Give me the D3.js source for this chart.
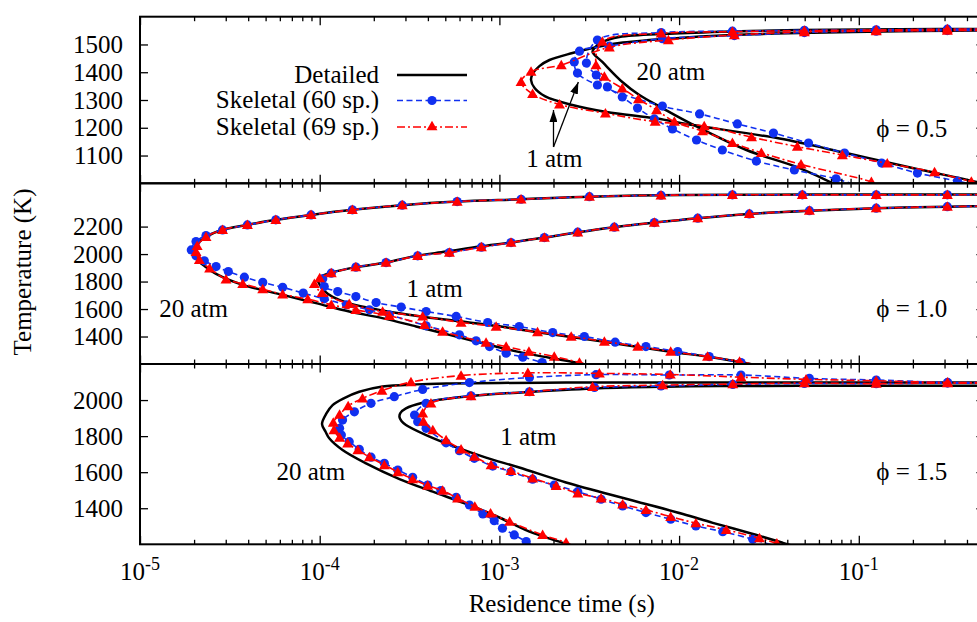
<!DOCTYPE html>
<html><head><meta charset="utf-8">
<script src="https://cdn.jsdelivr.net/npm/d3@7/dist/d3.min.js"></script>
<style>
body{margin:0;background:#fff;}
svg text{font-family:"Liberation Serif","Times New Roman",serif;}
</style></head><body>
<svg id="chart" width="977" height="622"></svg>
<script>
// ---------------- DATA (residence time [s], temperature [K]) ----------------
const xTickValues = [1e-5, 1e-4, 1e-3, 1e-2, 1e-1];
const xTickExponents = ["-5", "-4", "-3", "-2", "-1"];
const yTicksPhi05 = [1100, 1200, 1300, 1400, 1500];
const yTicksPhi10 = [1400, 1600, 1800, 2000, 2200];
const yTicksPhi15 = [1400, 1600, 1800, 2000];
const seriesNames = ["Detailed", "Skeletal (60 sp.)", "Skeletal (69 sp.)"];
const phiLabels = ["\u03d5 = 0.5", "\u03d5 = 1.0", "\u03d5 = 1.5"];

// phi = 0.5
const det05_1atm = [[0.6,1551],[0.452,1550],[0.168,1548],[0.0467,1541],[0.0198,1534],[8.83e-3,1521],[4.65e-3,1505],[3.30e-3,1487],[2.55e-3,1469],[1.90e-3,1444],[1.67e-3,1422],[1.53e-3,1394],[1.50e-3,1372],[1.57e-3,1343],[1.80e-3,1313],[2.55e-3,1282],[3.94e-3,1257],[7.49e-3,1233],[1.19e-2,1210],[3.62e-2,1161],[8.51e-2,1109],[0.199,1055],[0.452,1005],[0.6,985]];
const det05_20atm = [[0.6,1556],[0.168,1555],[0.0467,1552],[0.0198,1547],[8.83e-3,1539],[4.65e-3,1527],[3.74e-3,1509],[3.38e-3,1487],[3.30e-3,1473],[3.74e-3,1437],[4.83e-3,1365],[6.01e-3,1318],[8.07e-3,1271],[1.15e-2,1217],[2.37e-2,1120],[4.50e-2,1059],[7.14e-2,1001],[0.09,970]];
const sk60_05_1atm = [[0.6,1550],[0.311,1550],[0.125,1548],[0.0498,1543],[0.0203,1532],[8.07e-3,1521],[4.09e-3,1494],[2.79e-3,1476],[2.61e-3,1437],[2.72e-3,1397],[3.51e-3,1354],[8.07e-3,1278],[0.0130,1250],[0.0211,1214],[0.0335,1181],[0.0525,1145],[0.0833,1109],[0.134,1073],[0.212,1037],[0.354,1008],[0.5,985]];
const sk60_05_20atm = [[0.6,1556],[0.311,1555],[0.125,1553],[0.0498,1551],[0.0198,1548],[7.95e-3,1543],[3.51e-3,1516],[3.05e-3,1433],[3.46e-3,1390],[3.99e-3,1347],[4.83e-3,1311],[5.87e-3,1271],[7.28e-3,1232],[9.18e-3,1196],[0.0125,1156],[0.0174,1120],[0.0269,1080],[0.0438,1048],[0.0747,1016],[0.1,990]];
const sk69_05_1atm = [[0.6,1550],[0.311,1550],[0.125,1548],[0.0498,1545],[0.0203,1534],[8.72e-3,1516],[4.09e-3,1490],[2.21e-3,1426],[1.50e-3,1402],[1.32e-3,1365],[1.53e-3,1322],[2.16e-3,1284],[3.89e-3,1252],[7.36e-3,1222],[1.38e-2,1206],[2.53e-2,1166],[4.55e-2,1132],[8.1e-2,1102],[0.144,1072],[0.264,1040],[0.423,1006],[0.6,985]];
const sk69_05_20atm = [[0.6,1556],[0.311,1555],[0.125,1552],[0.0498,1550],[0.0198,1546],[7.95e-3,1540],[3.74e-3,1510],[3.45e-3,1426],[3.84e-3,1384],[4.83e-3,1342],[5.94e-3,1303],[7.49e-3,1264],[9.41e-3,1222],[1.35e-2,1188],[1.98e-2,1146],[2.87e-2,1110],[0.0477,1068],[0.1175,1005],[0.13,990]];

// phi = 1.0
const det10_1atm = [[0.6,2349],[0.452,2348],[0.311,2345],[0.125,2334],[0.0531,2316],[0.0246,2292],[0.0127,2261],[7.28e-3,2229],[4.36e-3,2196],[2.73e-3,2159],[1.78e-3,2120],[1.16e-3,2084],[7.75e-4,2055],[5.05e-4,2018],[3.44e-4,1987],[2.34e-4,1938],[1.59e-4,1905],[1.16e-4,1865],[1.02e-4,1838],[9.75e-5,1812],[1.01e-4,1769],[1.06e-4,1732],[1.18e-4,1689],[1.46e-4,1641],[2.23e-4,1590],[3.59e-4,1547],[5.99e-4,1511],[1.0e-3,1474],[1.63e-3,1431],[2.45e-3,1398],[3.84e-3,1361],[8.98e-3,1289],[1.47e-2,1252],[2.37e-2,1205],[0.03,1180]];
const det10_20atm = [[0.6,2433],[0.452,2433],[0.125,2433],[0.0485,2433],[0.0198,2431],[7.93e-3,2428],[3.17e-3,2418],[1.32e-3,2399],[5.82e-4,2382],[2.88e-4,2356],[1.52e-4,2322],[8.95e-5,2285],[5.70e-5,2249],[3.96e-5,2212],[2.87e-5,2176],[2.33e-5,2125],[2.06e-5,2067],[1.97e-5,2016],[2.06e-5,1965],[2.28e-5,1914],[2.65e-5,1856],[3.73e-5,1776],[6.22e-5,1703],[9.54e-5,1643],[1.46e-4,1582],[2.23e-4,1534],[3.44e-4,1473],[5.27e-4,1412],[8.08e-4,1351],[1.24e-3,1292],[1.90e-3,1245],[2.79e-3,1205],[3.2e-3,1185]];
const sk60_10_1atm = [[0.6,2349],[0.311,2345],[0.125,2334],[0.0531,2316],[0.0246,2292],[0.0127,2261],[7.28e-3,2229],[4.36e-3,2196],[2.73e-3,2159],[1.78e-3,2120],[1.16e-3,2084],[7.94e-4,2050],[5.27e-4,2011],[3.51e-4,1987],[2.34e-4,1938],[1.59e-4,1905],[1.16e-4,1861],[1.04e-4,1820],[1.06e-4,1764],[1.26e-4,1727],[1.59e-4,1691],[2.06e-4,1647],[2.84e-4,1614],[3.91e-4,1582],[5.75e-4,1546],[8.61e-4,1502],[1.29e-3,1473],[1.98e-3,1429],[2.97e-3,1400],[4.41e-3,1359],[6.54e-3,1327],[9.82e-3,1291],[1.47e-2,1254],[2.21e-2,1211],[0.03,1180]];
const sk60_10_20atm = [[0.6,2433],[0.311,2431],[0.125,2431],[0.0485,2431],[0.0198,2431],[7.93e-3,2428],[3.17e-3,2418],[1.32e-3,2399],[5.82e-4,2382],[2.88e-4,2356],[1.52e-4,2322],[8.95e-5,2285],[5.70e-5,2249],[3.96e-5,2212],[2.88e-5,2176],[2.33e-5,2135],[2.05e-5,2091],[1.93e-5,2030],[2.05e-5,1987],[2.28e-5,1951],[2.65e-5,1909],[3.10e-5,1873],[3.81e-5,1832],[4.82e-5,1794],[6.22e-5,1758],[8.10e-5,1716],[1.06e-4,1674],[1.41e-4,1631],[1.89e-4,1594],[2.44e-4,1558],[3.91e-4,1478],[5.99e-4,1412],[7.42e-4,1369],[8.81e-4,1327],[1.09e-3,1279],[1.35e-3,1250],[1.73e-3,1211],[2.0e-3,1190]];
const sk69_10_1atm = [[0.6,2349],[0.311,2345],[0.125,2334],[0.0531,2316],[0.0246,2292],[0.0127,2261],[7.28e-3,2229],[4.36e-3,2196],[2.73e-3,2159],[1.78e-3,2120],[1.16e-3,2084],[7.94e-4,2050],[5.27e-4,2011],[3.51e-4,1987],[2.34e-4,1938],[1.59e-4,1905],[1.16e-4,1861],[1.0e-4,1825],[9.34e-5,1783],[1.03e-4,1718],[1.46e-4,1638],[2.24e-4,1582],[3.74e-4,1546],[6.12e-4,1502],[9.59e-4,1473],[1.63e-3,1432],[2.51e-3,1400],[3.84e-3,1364],[5.89e-3,1327],[8.98e-3,1291],[1.44e-2,1254],[2.17e-2,1218],[0.03,1180]];
const sk69_10_20atm = [[0.6,2433],[0.311,2431],[0.125,2431],[0.0485,2431],[0.0198,2431],[7.93e-3,2428],[3.17e-3,2418],[1.32e-3,2399],[5.82e-4,2382],[2.88e-4,2356],[1.52e-4,2322],[8.95e-5,2285],[5.70e-5,2249],[3.96e-5,2212],[2.88e-5,2176],[2.33e-5,2125],[2.08e-5,2060],[2.05e-5,2016],[2.14e-5,1958],[2.44e-5,1897],[3.01e-5,1817],[3.73e-5,1783],[4.82e-5,1745],[6.22e-5,1707],[8.58e-5,1672],[1.16e-4,1631],[1.59e-4,1594],[2.44e-4,1551],[3.83e-4,1485],[4.83e-4,1436],[8.43e-4,1356],[1.09e-3,1327],[1.46e-3,1291],[2.02e-3,1254],[2.79e-3,1211],[3.2e-3,1185]];

// phi = 1.5
const det15_1atm = [[0.6,2079],[0.452,2079],[0.168,2079],[0.0467,2079],[1.68e-2,2078],[8.46e-3,2074],[3.60e-3,2065],[1.53e-3,2046],[8.09e-4,2028],[5.27e-4,2009],[3.74e-4,1985],[3.02e-4,1954],[2.81e-4,1928],[2.78e-4,1906],[2.85e-4,1884],[3.02e-4,1862],[3.91e-4,1806],[5.99e-4,1732],[8.43e-4,1681],[1.29e-3,1626],[2.35e-3,1543],[5.52e-3,1443],[1.05e-2,1368],[1.54e-2,1319],[2.46e-2,1263],[3.78e-2,1208],[0.045,1185]];
const det15_20atm = [[0.6,2098],[0.452,2098],[0.168,2098],[0.0467,2098],[1.68e-2,2098],[5.52e-3,2098],[2.35e-3,2097],[1.0e-3,2095],[5.27e-4,2092],[3.44e-4,2087],[2.24e-4,2075],[1.66e-4,2046],[1.37e-4,2011],[1.18e-4,1972],[1.09e-4,1926],[1.03e-4,1867],[1.08e-4,1823],[1.13e-4,1788],[1.34e-4,1723],[1.81e-4,1649],[2.78e-4,1562],[4.26e-4,1492],[6.52e-4,1424],[9.59e-4,1357],[1.47e-3,1270],[2.25e-3,1208],[2.6e-3,1185]];
const sk60_15_1atm = [[0.6,2092],[0.312,2094],[0.125,2091],[0.0498,2092],[1.99e-2,2087],[7.93e-3,2078],[3.38e-3,2070],[1.47e-3,2046],[6.95e-4,2024],[3.91e-4,1982],[3.37e-4,1917],[3.51e-4,1880],[3.91e-4,1843],[5.05e-4,1763],[5.99e-4,1719],[7.25e-4,1677],[9.18e-4,1634],[1.16e-3,1603],[1.53e-3,1561],[2.02e-3,1529],[2.73e-3,1492],[3.68e-3,1450],[4.85e-3,1413],[6.54e-3,1376],[8.98e-3,1339],[1.24e-2,1302],[1.75e-2,1270],[2.57e-2,1228],[3.3e-2,1195]];
const sk60_15_20atm = [[0.6,2098],[0.312,2098],[0.125,2111],[0.0531,2120],[2.21e-2,2139],[8.83e-3,2139],[3.45e-3,2141],[1.47e-3,2125],[6.81e-4,2097],[3.74e-4,2059],[2.60e-4,2019],[1.93e-4,1982],[1.56e-4,1935],[1.34e-4,1889],[1.29e-4,1843],[1.32e-4,1806],[1.46e-4,1769],[1.66e-4,1727],[1.93e-4,1683],[2.29e-4,1649],[2.72e-4,1612],[3.29e-4,1572],[3.99e-4,1529],[4.73e-4,1498],[5.75e-4,1461],[6.81e-4,1418],[8.09e-4,1368],[9.36e-4,1331],[1.04e-3,1289],[1.21e-3,1252],[1.41e-3,1215],[1.6e-3,1185]];
const sk69_15_1atm = [[0.6,2092],[0.312,2094],[0.125,2091],[0.0498,2094],[1.99e-2,2089],[8.10e-3,2083],[3.30e-3,2074],[1.47e-3,2046],[6.95e-4,2022],[4.16e-4,1982],[3.74e-4,1926],[3.78e-4,1880],[4.26e-4,1834],[5.05e-4,1778],[6.12e-4,1727],[7.25e-4,1686],[8.99e-4,1640],[1.16e-3,1607],[1.53e-3,1566],[2.07e-3,1524],[2.73e-3,1483],[3.68e-3,1455],[4.85e-3,1422],[6.54e-3,1391],[8.98e-3,1353],[1.24e-2,1317],[1.83e-2,1280],[2.80e-2,1234],[3.5e-2,1205],[0.04,1190]];
const sk69_15_20atm = [[0.6,2098],[0.312,2098],[0.125,2107],[0.0509,2115],[2.21e-2,2127],[8.93e-3,2142],[3.60e-3,2148],[1.44e-3,2151],[6.12e-4,2136],[3.22e-4,2100],[2.22e-4,2053],[1.73e-4,2009],[1.44e-4,1967],[1.29e-4,1919],[1.19e-4,1875],[1.20e-4,1834],[1.29e-4,1792],[1.43e-4,1760],[1.63e-4,1723],[1.89e-4,1684],[2.29e-4,1640],[2.72e-4,1601],[3.29e-4,1562],[3.99e-4,1526],[4.83e-4,1498],[5.85e-4,1455],[7.30e-4,1409],[8.93e-4,1372],[1.14e-3,1326],[1.74e-3,1252],[2.35e-3,1210],[2.6e-3,1190]];

// annotations [t, T]
const pressureLabels05 = [["20 atm", 5.8e-3, 1372], ["1 atm", 1.41e-3, 1059]];
const pressureLabels10 = [["20 atm", 1.28e-5, 1543], ["1 atm", 3.04e-4, 1689]];
const pressureLabels15 = [["20 atm", 5.75e-5, 1557], ["1 atm", 1.01e-3, 1751]];
const arrowStart05 = [2.0e-3, 1131];
const arrowTips05 = [[2.0e-3, 1264], [2.75e-3, 1365]];

// ---------------- CHART ----------------
const svg = d3.select("#chart");
const FONT = "Liberation Serif, Times New Roman, serif";
const XL = 140, XR = 984.4;
const x = d3.scaleLog().domain([1e-5, 0.5]).range([XL, XR]);
const BLUE = "#1030f0", RED = "#ff0000";

const panels = [
  {top: 16.7, bottom: 183.3, domain: [1000, 1600], yTicks: yTicksPhi05, phi: phiLabels[0], phiT: 1167,
   det: [det05_1atm, det05_20atm], s60: [sk60_05_1atm, sk60_05_20atm], s69: [sk69_05_1atm, sk69_05_20atm], labels: pressureLabels05},
  {top: 183.3, bottom: 364, domain: [1200, 2515], yTicks: yTicksPhi10, phi: phiLabels[1], phiT: 1543,
   det: [det10_1atm, det10_20atm], s60: [sk60_10_1atm, sk60_10_20atm], s69: [sk69_10_1atm, sk69_10_20atm], labels: pressureLabels10},
  {top: 364, bottom: 544.3, domain: [1200, 2200], yTicks: yTicksPhi15, phi: phiLabels[2], phiT: 1557,
   det: [det15_1atm, det15_20atm], s60: [sk60_15_1atm, sk60_15_20atm], s69: [sk69_15_1atm, sk69_15_20atm], labels: pressureLabels15}
];

const defs = svg.append("defs");
defs.append("marker").attr("id", "arrowhead").attr("viewBox", "0 0 12 8")
  .attr("refX", 12).attr("refY", 4).attr("markerWidth", 12).attr("markerHeight", 8)
  .attr("markerUnits", "userSpaceOnUse").attr("orient", "auto")
  .append("path").attr("d", "M0,0 L12,4 L0,8 Z").attr("fill", "#000");

const allTicks = x.ticks();
const minorTicks = allTicks.filter(v => !xTickValues.some(d => Math.abs(v / d - 1) < 1e-6));
const tri = d3.symbol().type(d3.symbolTriangle).size(52);

panels.forEach((p, i) => {
  const y = d3.scaleLinear().domain(p.domain).range([p.bottom, p.top]);
  const g = svg.append("g");
  const cid = "clip" + i;
  defs.append("clipPath").attr("id", cid).append("rect")
    .attr("x", XL).attr("y", p.top).attr("width", XR - XL).attr("height", p.bottom - p.top);

  const line = d3.line().x(d => x(d[0])).y(d => y(d[1])).curve(d3.curveCatmullRom.alpha(0.5));
  const plot = g.append("g").attr("clip-path", `url(#${cid})`);
  const inRange = d => d[0] >= 1e-5 && d[0] <= 0.5 && d[1] >= p.domain[0] && d[1] <= p.domain[1];

  p.det.forEach(s => plot.append("path").attr("d", line(s)).attr("fill", "none")
    .attr("stroke", "#000").attr("stroke-width", 2.5));
  p.s60.forEach(s => {
    plot.append("path").attr("d", line(s)).attr("fill", "none").attr("stroke", BLUE)
      .attr("stroke-width", 1.6).attr("stroke-dasharray", "6,3.5");
    plot.selectAll(null).data(s.filter(inRange)).enter().append("circle")
      .attr("cx", d => x(d[0])).attr("cy", d => y(d[1])).attr("r", 4.6).attr("fill", BLUE);
  });
  p.s69.forEach(s => {
    plot.append("path").attr("d", line(s)).attr("fill", "none").attr("stroke", RED)
      .attr("stroke-width", 1.6).attr("stroke-dasharray", "8,3,2,3");
    plot.selectAll(null).data(s.filter(inRange)).enter().append("path")
      .attr("d", tri).attr("transform", d => `translate(${x(d[0])},${y(d[1]) + 1})`).attr("fill", RED);
  });

  // axes
  const styleAxis = a => {
    a.select(".domain").remove();
    a.selectAll("line").attr("stroke", "#000").attr("stroke-width", 1.3);
    a.selectAll("text").attr("font-family", FONT).attr("font-size", 25).attr("fill", "#000");
  };
  g.append("g").attr("transform", `translate(${XL},0)`)
    .call(d3.axisLeft(y).tickValues(p.yTicks).tickSize(-8).tickPadding(17).tickFormat(d3.format("d"))).call(styleAxis);
  g.append("g").attr("transform", `translate(${XR},0)`)
    .call(d3.axisRight(y).tickValues(p.yTicks).tickSize(-8).tickFormat("")).call(styleAxis);
  [[d3.axisBottom, p.bottom], [d3.axisTop, p.top]].forEach(([ax, yy]) => {
    g.append("g").attr("transform", `translate(0,${yy})`)
      .call(ax(x).tickValues(xTickValues).tickSize(-8.5).tickFormat("")).call(styleAxis);
    g.append("g").attr("transform", `translate(0,${yy})`)
      .call(ax(x).tickValues(minorTicks).tickSize(-4.5).tickFormat("")).call(styleAxis);
  });
  g.append("rect").attr("x", XL).attr("y", p.top).attr("width", XR - XL).attr("height", p.bottom - p.top)
    .attr("fill", "none").attr("stroke", "#000").attr("stroke-width", 2);

  // labels
  p.labels.forEach(([txt, t, T]) => g.append("text").attr("x", x(t)).attr("y", y(T))
    .attr("font-size", 25).attr("font-family", FONT).text(txt));
  g.append("text").attr("x", x(0.311)).attr("y", y(p.phiT)).attr("text-anchor", "end")
    .attr("font-size", 25).attr("font-family", FONT).text(p.phi);

  if (i === 0) {
    arrowTips05.forEach(tip => g.append("line")
      .attr("x1", x(arrowStart05[0])).attr("y1", y(arrowStart05[1]))
      .attr("x2", x(tip[0])).attr("y2", y(tip[1]))
      .attr("stroke", "#000").attr("stroke-width", 1.3).attr("marker-end", "url(#arrowhead)"));
  }
});

// x tick labels under the bottom panel
const xl = svg.append("g");
xTickValues.forEach((v, k) => {
  const t = xl.append("text").attr("x", x(v)).attr("y", 580).attr("text-anchor", "middle")
    .attr("font-family", FONT).attr("font-size", 25);
  t.append("tspan").text("10");
  t.append("tspan").attr("dy", -10).attr("font-size", 18).text(xTickExponents[k]);
});

// axis titles
svg.append("text").attr("x", 561.7).attr("y", 612).attr("text-anchor", "middle")
  .attr("font-family", FONT).attr("font-size", 25).text("Residence time (s)");
svg.append("text").attr("transform", "translate(31,272) rotate(-90)").attr("text-anchor", "middle")
  .attr("font-family", FONT).attr("font-size", 25).text("Temperature (K)");

// legend
const lg = svg.append("g");
const legY = [75, 100.5, 127];
seriesNames.forEach((name, k) => {
  lg.append("text").attr("x", 379).attr("y", legY[k] + 7.5).attr("text-anchor", "end")
    .attr("font-family", FONT).attr("font-size", 25).text(name);
});
lg.append("line").attr("x1", 397).attr("x2", 467).attr("y1", legY[0]).attr("y2", legY[0])
  .attr("stroke", "#000").attr("stroke-width", 2.5);
lg.append("line").attr("x1", 397).attr("x2", 467).attr("y1", legY[1]).attr("y2", legY[1])
  .attr("stroke", BLUE).attr("stroke-width", 1.6).attr("stroke-dasharray", "6,3.5");
lg.append("circle").attr("cx", 432).attr("cy", legY[1]).attr("r", 4.6).attr("fill", BLUE);
lg.append("line").attr("x1", 397).attr("x2", 467).attr("y1", legY[2]).attr("y2", legY[2])
  .attr("stroke", RED).attr("stroke-width", 1.6).attr("stroke-dasharray", "8,3,2,3");
lg.append("path").attr("d", tri).attr("transform", `translate(432,${legY[2]})`).attr("fill", RED);
</script>
</body></html>
